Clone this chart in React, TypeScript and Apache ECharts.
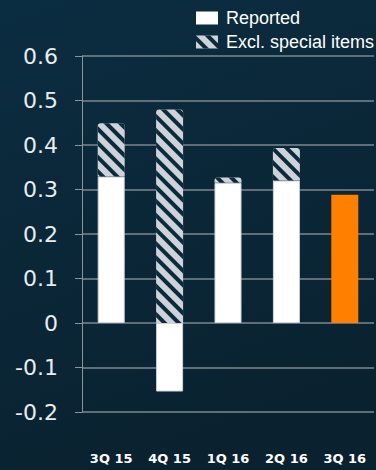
import React, { useEffect, useRef } from "react";
import * as echarts from "echarts";

const categories = ["3Q 15", "4Q 15", "1Q 16", "2Q 16", "3Q 16"];
const reported = [0.329, -0.154, 0.315, 0.32, 0.288];
const exclSpecialTotals = [0.449, 0.48, 0.327, 0.393, null];
const yTicks = { min: -0.2, max: 0.6, interval: 0.1 };
const highlightIndex = 4;

export default function App() {
  const ref = useRef<HTMLDivElement>(null);
  useEffect(() => {
    if (!ref.current) return;
    const chart = echarts.init(ref.current, null, { renderer: "svg" });
    const exclIncrement = exclSpecialTotals.map((t, i) => {
      if (t === null) return null;
      const r = reported[i];
      return r > 0 ? +(t - r).toFixed(3) : t;
    });
    const hatch = {
      symbol: "rect",
      symbolSize: 1,
      dashArrayX: [[1, 0]],
      dashArrayY: [4, 6],
      rotation: Math.PI / 4,
      color: "#0b2a3c",
    };
    chart.setOption({
      animation: false,
      backgroundColor: {
        type: "linear",
        x: 0,
        y: 0,
        x2: 0.3,
        y2: 1,
        colorStops: [
          { offset: 0, color: "#0b2d41" },
          { offset: 1, color: "#0a2230" },
        ],
      },
      legend: {
        orient: "vertical",
        left: 191,
        top: 4,
        itemWidth: 22,
        itemHeight: 13,
        itemGap: 6,
        selectedMode: false,
        icon: "rect",
        textStyle: {
          color: "#ffffff",
          fontSize: 18,
          fontFamily: "Liberation Sans, Arial, sans-serif",
          padding: [0, 0, 0, 3],
        },
        data: [
          { name: "Reported", itemStyle: { color: "#ffffff", borderWidth: 0 } },
          { name: "Excl. special items", itemStyle: { color: "#cdd3d8", decal: hatch, borderWidth: 0 } },
        ],
      },
      grid: { left: 82, right: 2, top: 56, bottom: 58, containLabel: false },
      xAxis: {
        type: "category",
        data: categories,
        axisLine: { show: false },
        axisTick: { show: false },
        axisLabel: {
          color: "#ffffff",
          fontSize: 13,
          fontWeight: "bold",
          fontFamily: "DejaVu Sans, sans-serif",
          margin: 40,
        },
      },
      yAxis: {
        type: "value",
        min: yTicks.min,
        max: yTicks.max,
        interval: yTicks.interval,
        axisLine: { show: true, lineStyle: { color: "#8a949b", width: 1 } },
        axisTick: { show: true, inside: false, length: 7, lineStyle: { color: "#8a949b" } },
        splitLine: { show: true, lineStyle: { color: "#7d878f", width: 1.5 } },
        axisLabel: {
          color: "#e8edf0",
          fontSize: 22,
          fontFamily: "DejaVu Sans, sans-serif",
          margin: 24,
          formatter: (v: number) => String(Math.round(v * 10) / 10),
        },
      },
      series: [
        {
          name: "Reported",
          type: "bar",
          stack: "eps",
          barWidth: 27,
          itemStyle: { color: "#ffffff", borderColor: "#cfd4d8", borderWidth: 1 },
          data: reported.map((v, i) =>
            i === highlightIndex
              ? { value: v, itemStyle: { color: "#ff7f00", borderWidth: 0 } }
              : v
          ),
        },
        {
          name: "Excl. special items",
          type: "bar",
          stack: "eps",
          barWidth: 27,
          itemStyle: { color: "#cdd3d8", decal: hatch, borderRadius: [3, 3, 0, 0] },
          data: exclIncrement,
        },
      ],
    });
    return () => chart.dispose();
  }, []);
  return (
    <div
      ref={ref}
      style={{ position: "fixed", left: 0, top: 0, width: 376, height: 470 }}
    />
  );
}
